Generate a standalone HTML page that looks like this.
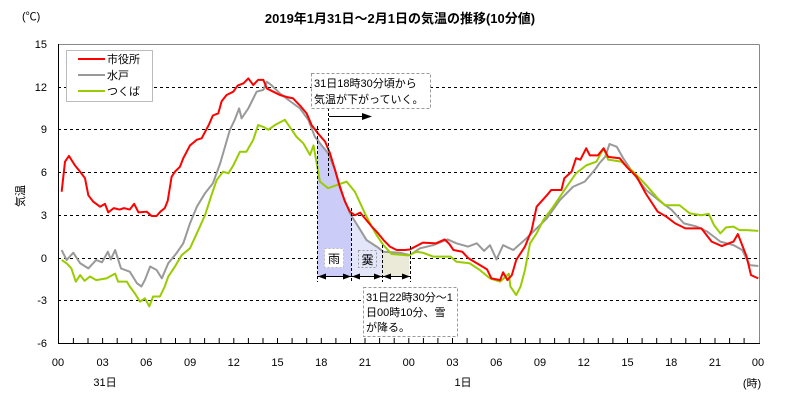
<!DOCTYPE html>
<html><head><meta charset="utf-8"><style>
body{margin:0;background:#fff}
svg{display:block}
text{font-family:"Liberation Sans","Noto Sans CJK JP",sans-serif;font-size:11px;fill:#000}
.ns{vector-effect:non-scaling-stroke}
</style></head><body>
<svg width="800" height="400" viewBox="0 0 800 400">
<rect width="800" height="400" fill="#fff"/>
<text x="400" y="23" text-anchor="middle" style="font-size:13px;font-weight:bold">2019年1月31日～2月1日の気温の推移(10分値)</text>
<text x="22" y="20">(℃)</text>
<text x="24" y="196" transform="rotate(-90 24 196)" text-anchor="middle" style="font-size:11px">気温</text>
<!-- grid -->
<g stroke="#000" stroke-width="1" stroke-dasharray="3,3">
<line x1="58" y1="87.5" x2="759" y2="87.5"/><line x1="58" y1="129.5" x2="759" y2="129.5"/>
<line x1="58" y1="172.5" x2="759" y2="172.5"/><line x1="58" y1="215.5" x2="759" y2="215.5"/>
<line x1="58" y1="258.5" x2="759" y2="258.5"/><line x1="58" y1="300.5" x2="759" y2="300.5"/>
</g>
<g text-anchor="end">
<text x="47" y="48">15</text><text x="47" y="91">12</text><text x="47" y="133">9</text>
<text x="47" y="176">6</text><text x="47" y="219">3</text><text x="47" y="262">0</text>
<text x="47" y="304">-3</text><text x="47" y="347">-6</text>
</g>
<g transform="translate(58.3,258) scale(14.583,-14.25)">
<polygon fill="#ccccf8" points="17.76,-1.26 17.76,8.6 18.06,7.9 18.5,7.35 18.97,6.2 19.54,4.3 20.07,3.0 20.07,-1.26"/>
<polygon fill="#e3e5f8" points="20.07,-1.26 20.07,3.0 20.57,2.2 21.14,1.26 21.83,0.8 22.2,0.5 22.2,-1.26"/>
<polygon fill="#ebe9d8" points="22.2,-1.26 22.2,0.4 24.07,0.3 24.07,-1.26"/>
<g fill="none" stroke-width="2" stroke-linejoin="round">
<polyline class="ns" stroke="#999" points="0.23,0.56 0.57,-0.14 1.03,0.37 1.5,-0.37 2.06,-0.73 2.6,-0.14 3.0,-0.3 3.4,0.44 3.6,-0.1 3.9,0.56 4.3,-0.73 4.9,-0.96 5.4,-1.78 5.7,-2 5.94,-1.54 6.3,-0.6 6.74,-0.84 7.1,-1.43 7.54,-0.37 8.1,0.33 8.57,1.03 9.03,2.43 9.5,3.6 10.06,4.54 10.6,5.24 11.1,6.64 11.77,9 12.1,9.7 12.4,10.5 12.57,9.8 13.03,10.5 13.6,11.67 14.06,11.8 14.3,12.37 14.6,12.14 15.2,11.55 15.9,11 16.57,10.5 17.14,9.7 17.6,8.5 18.06,7.9 18.5,7.35 18.97,6.2 19.54,4.3 20,3.13 20.57,2.2 21.14,1.26 21.83,0.8 22.3,0.44 23.43,0.37 24.1,0.2 24.8,0.68 25.7,0.9 26.7,1.3 27.3,1.03 28.1,0.8 28.7,1.03 29.2,0.5 29.6,0.9 30.05,-0.1 30.5,0.9 31.2,0.56 32.1,1.38 32.8,2.08 33.5,2.78 34.4,4.07 35.3,5 36.1,5.36 36.8,6.2 37.1,6.64 37.5,7.1 37.8,8 38.3,7.8 38.74,7 39.43,5.94 40.3,4.77 41.3,3.95 42.06,3.37 42.9,2.43 43.8,2.2 44.5,1.85 45.4,1.15 46.3,0.9 46.9,0.56 47.4,-0.5 48,-0.56"/>
<polyline class="ns" stroke="#99cc00" points="0.23,-0.14 0.6,-0.4 0.9,-0.73 1.2,-1.66 1.5,-1.2 1.8,-1.6 2.17,-1.3 2.6,-1.55 3.3,-1.43 3.9,-1.1 4.1,-1.66 4.7,-1.66 4.9,-2 5.26,-2.5 5.6,-3.06 5.94,-2.83 6.24,-3.4 6.5,-2.7 6.97,-2.7 7.3,-2 7.54,-1.3 8,-0.6 8.46,0.2 9.03,0.68 9.5,1.73 10.06,3 10.5,4.4 10.86,5.47 11.3,6.06 11.66,5.94 12,6.5 12.46,7.46 12.9,7.46 13.37,8.3 13.7,9.33 14.06,9.2 14.4,9 14.86,9.33 15.54,9.7 16,9 16.34,8.5 16.8,8.05 17.26,7.23 17.5,7.9 17.7,6.76 17.94,5.36 18.5,4.9 19.1,5.12 19.77,5.36 20.34,4.65 21.03,3.13 21.5,2.2 21.83,1.6 22.3,0.9 22.86,0.28 24,0.18 24.57,0.44 25,0.37 25.7,0.1 26.9,0.1 27.3,-0.26 28.2,-0.37 28.9,-0.84 29.6,-1.43 30.3,-1.66 30.9,-1.1 31,-2 31.4,-2.6 31.7,-2 32,-0.84 32.35,1.03 32.8,1.73 33.26,2.66 33.94,3.6 34.86,5 35.5,5.94 36.2,6.5 36.9,6.76 37.4,7.7 37.7,6.9 38.6,6.76 39.43,6.06 40.2,5.24 41.1,4.19 41.6,3.7 42.6,3.7 43.3,3.13 44.1,3.0 44.6,3.1 44.97,2.3 45.4,1.73 45.8,2.15 46.3,2.2 46.7,1.96 47.2,1.96 48,1.9"/>
<polyline class="ns" stroke="#ff0000" points="0.23,4.65 0.46,6.76 0.73,7.16 1.14,6.5 1.49,6.06 1.83,5.6 2.06,4.4 2.4,3.95 2.86,3.6 3.2,3.8 3.43,3.2 3.8,3.5 4.2,3.4 4.5,3.5 4.9,3.4 5.2,3.8 5.5,3.2 6.06,3.25 6.4,2.95 6.74,2.95 7,3.25 7.3,3.5 7.5,4 7.77,5.7 8,6.06 8.34,6.4 8.57,7 9.03,7.9 9.5,8.3 9.83,8.4 10.3,9.3 10.6,10 10.97,10.15 11.2,11 11.54,11.44 12,11.67 12.3,12.1 12.7,12.26 13.03,12.6 13.37,12.14 13.7,12.5 14.06,12.5 14.3,11.9 14.74,11.67 15.2,11.44 15.66,11.3 16.1,11.2 16.57,10.7 17.03,10.15 17.37,9.33 17.8,8.75 18.3,8.16 18.63,7.35 18.97,6.2 19.3,5 19.66,3.95 20,3.25 20.34,3.0 20.7,3.18 21.03,2.78 21.5,2.2 21.83,1.85 22.3,1.26 22.74,0.8 23.2,0.56 23.77,0.56 24.1,0.6 25,1.08 25.9,1.03 26.5,1.3 26.8,1.0 27.1,0.56 27.7,0.44 28.1,0 28.7,-0.37 29.4,-0.8 29.7,-1.43 30.3,-1.55 30.5,-1.0 30.8,-1.55 31.1,-1.2 31.4,-0.14 32,0.8 32.46,1.96 32.8,3.6 33.5,4.4 33.8,4.77 34.5,4.77 34.7,5.6 35.2,6.06 35.5,7 35.8,6.9 36.2,7.7 36.45,7.2 37,7.2 37.4,7.7 37.7,7.1 38.5,7 38.97,6.4 39.66,5.7 40.3,4.5 41.1,3.25 41.7,2.9 42.3,2.43 43,2.08 44.1,2.08 44.8,1.15 45.5,0.84 46.3,1.15 46.6,1.68 47.2,0.1 47.5,-1.2 48,-1.43"/>
</g>
</g>
<!-- frame -->
<line x1="58.5" y1="44.5" x2="759.5" y2="44.5" stroke="#888"/>
<line x1="759.5" y1="44.5" x2="759.5" y2="343.5" stroke="#888"/>
<line x1="58.5" y1="44" x2="58.5" y2="343.5" stroke="#000"/>
<line x1="58" y1="343.5" x2="760" y2="343.5" stroke="#000"/>
<g stroke="#000" id="ticks"></g>
<path stroke="#000" fill="none" d="M73.4,343v-5M88,343v-5M102.6,343v-5M117.2,343v-5M131.7,343v-5M146.3,343v-5M160.9,343v-5M175.5,343v-5M190.1,343v-5M204.6,343v-5M219.2,343v-5M233.8,343v-5M248.4,343v-5M263,343v-5M277.5,343v-5M292.1,343v-5M306.7,343v-5M321.3,343v-5M335.9,343v-5M350.5,343v-5M365,343v-5M379.6,343v-5M394.2,343v-5M408.8,343v-5M423.4,343v-5M437.9,343v-5M452.5,343v-5M467.1,343v-5M481.7,343v-5M496.3,343v-5M510.8,343v-5M525.4,343v-5M540,343v-5M554.6,343v-5M569.2,343v-5M583.8,343v-5M598.3,343v-5M612.9,343v-5M627.5,343v-5M642.1,343v-5M656.7,343v-5M671.2,343v-5M685.8,343v-5M700.4,343v-5M715,343v-5M729.6,343v-5M744.1,343v-5"/>
<g text-anchor="middle">
<text x="58" y="366">00</text><text x="102.6" y="366">03</text><text x="146.3" y="366">06</text>
<text x="190.1" y="366">09</text><text x="233.8" y="366">12</text><text x="277.5" y="366">15</text>
<text x="321.3" y="366">18</text><text x="365" y="366">21</text><text x="408.8" y="366">00</text>
<text x="452.5" y="366">03</text><text x="496.3" y="366">06</text><text x="540" y="366">09</text>
<text x="583.8" y="366">12</text><text x="627.5" y="366">15</text><text x="671.2" y="366">18</text>
<text x="715" y="366">21</text><text x="758" y="366">00</text>
<text x="105" y="386">31日</text><text x="463" y="386">1日</text><text x="752" y="387">(時)</text>
</g>
<!-- legend -->
<rect x="66.5" y="50.5" width="86" height="51" fill="#fff" stroke="#bbb"/>
<line x1="78" y1="59" x2="105" y2="59" stroke="#f00" stroke-width="2"/>
<line x1="78" y1="75" x2="105" y2="75" stroke="#999" stroke-width="2"/>
<line x1="78" y1="91" x2="105" y2="91" stroke="#99cc00" stroke-width="2"/>
<text x="107" y="63">市役所</text><text x="107" y="79">水戸</text><text x="107" y="95">つくば</text>
<!-- annotations -->
<g stroke="#000" stroke-dasharray="3,2" fill="none">
<line x1="317.5" y1="126" x2="317.5" y2="282"/>
<line x1="351.5" y1="208" x2="351.5" y2="282"/>
<line x1="382.5" y1="245" x2="382.5" y2="282"/>
<line x1="410.5" y1="246" x2="410.5" y2="282"/>
<line x1="328.5" y1="108" x2="328.5" y2="178"/>
</g>
<line x1="329" y1="116.5" x2="366" y2="116.5" stroke="#000"/>
<polygon points="372,116.5 362,113 362,120" fill="#000"/>
<g stroke="#000">
<line x1="318" y1="276.5" x2="410" y2="276.5"/>
</g>
<g fill="#000">
<polygon points="318,276.5 326,273.5 326,279.5"/><polygon points="351,276.5 343,273.5 343,279.5"/>
<polygon points="352,276.5 360,273.5 360,279.5"/><polygon points="382,276.5 374,273.5 374,279.5"/>
<polygon points="383,276.5 391,273.5 391,279.5"/><polygon points="410,276.5 402,273.5 402,279.5"/>
</g>
<rect x="324.5" y="248.5" width="19" height="19" fill="#fff" stroke="#bbb" stroke-dasharray="2,2"/>
<text x="334" y="263" text-anchor="middle" style="font-size:12px">雨</text>
<rect x="358.5" y="250.5" width="18" height="17" fill="#e3e5f8" stroke="#999" stroke-dasharray="2,2"/>
<text x="367.5" y="264" text-anchor="middle" style="font-size:12px">霙</text>
<rect x="311.5" y="73.5" width="119" height="35" fill="#fff" stroke="#999" stroke-dasharray="3,2"/>
<text x="314" y="87">31日18時30分頃から</text><text x="314" y="103">気温が下がっていく。</text>
<rect x="363.5" y="287.5" width="94" height="49" fill="#fff" stroke="#999" stroke-dasharray="3,2"/>
<text x="366" y="301">31日22時30分～1</text><text x="366" y="316">日00時10分、雪</text><text x="366" y="331">が降る。</text>
</svg>
</body></html>
